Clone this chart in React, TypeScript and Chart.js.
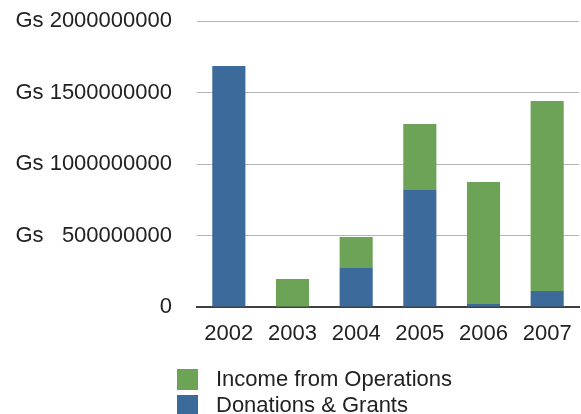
import React, { useEffect, useRef } from "react";
import { Chart, registerables } from "chart.js";

Chart.register(...registerables);

const years = ["2002", "2003", "2004", "2005", "2006", "2007"];
const donationsGrants = [1685000000, 0, 273000000, 818000000, 21000000, 112000000];
const incomeOperations = [0, 196000000, 217000000, 462000000, 853000000, 1328000000];
const yTickValues = [0, 500000000, 1000000000, 1500000000, 2000000000];
const yTickLabels = ["0", "Gs   500000000", "Gs 1000000000", "Gs 1500000000", "Gs 2000000000"];

const BLUE = "#3c6a9a";
const GREEN = "#6da357";
const FONT = "'Liberation Sans', Arial, sans-serif";
const TEXT = "#222222";

export default function App() {
  const ref = useRef<HTMLCanvasElement | null>(null);

  useEffect(() => {
    if (!ref.current) return;
    const chart = new Chart(ref.current, {
      type: "bar",
      data: {
        labels: years,
        datasets: [
          {
            label: "Donations & Grants",
            data: donationsGrants,
            backgroundColor: BLUE,
            borderWidth: 0,
          },
          {
            label: "Income from Operations",
            data: incomeOperations,
            backgroundColor: GREEN,
            borderWidth: 0,
          },
        ],
      },
      options: {
        animation: false,
        responsive: false,
        maintainAspectRatio: false,
        layout: { padding: { top: 21, right: 2, bottom: 67, left: 0 } },
        datasets: { bar: { categoryPercentage: 1, barPercentage: 0.52 } },
        plugins: {
          legend: { display: false },
          tooltip: { enabled: false },
        },
        scales: {
          x: {
            stacked: true,
            grid: { display: false, drawTicks: false },
            border: { display: true, color: "#404040", width: 2 },
            ticks: {
              color: TEXT,
              font: { family: FONT, size: 22 },
              padding: 14,
            },
            afterFit: (s: any) => {
              s.height = 40;
              s.paddingLeft = 0;
              s.paddingRight = 0;
            },
          },
          y: {
            stacked: true,
            min: 0,
            max: 2000000000,
            afterBuildTicks: (s: any) => {
              s.ticks = yTickValues.map((v) => ({ value: v }));
            },
            grid: {
              color: (ctx: any) => (ctx.tick && ctx.tick.value === 0 ? "rgba(0,0,0,0)" : "#b5b5b5"),
              lineWidth: 1,
              drawTicks: false,
            },
            border: { display: false },
            ticks: {
              color: TEXT,
              font: { family: FONT, size: 22 },
              padding: 25,
              callback: (v: any) => {
                const i = yTickValues.indexOf(Number(v));
                return i >= 0 ? yTickLabels[i] : "";
              },
            },
            afterFit: (s: any) => {
              s.width = 197;
              s.paddingTop = 0;
              s.paddingBottom = 0;
            },
          },
        },
      },
    });
    return () => chart.destroy();
  }, []);

  const legendItems = [
    { label: "Income from Operations", color: GREEN },
    { label: "Donations & Grants", color: BLUE },
  ];

  return (
    <div style={{ position: "fixed", left: 0, top: 0, width: 581, height: 414, background: "#fff", overflow: "hidden" }}>
      <canvas ref={ref} width={581} height={414} style={{ position: "absolute", left: 0, top: 0, width: 581, height: 414 }} />
      <div style={{ position: "absolute", left: 177, top: 366, fontFamily: FONT, fontSize: 22, color: TEXT }}>
        {legendItems.map((it) => (
          <div key={it.label} style={{ display: "flex", alignItems: "center", height: 26 }}>
            <span style={{ display: "inline-block", width: 21, height: 21, background: it.color, marginRight: 18 }} />
            <span style={{ lineHeight: "26px" }}>{it.label}</span>
          </div>
        ))}
      </div>
    </div>
  );
}
